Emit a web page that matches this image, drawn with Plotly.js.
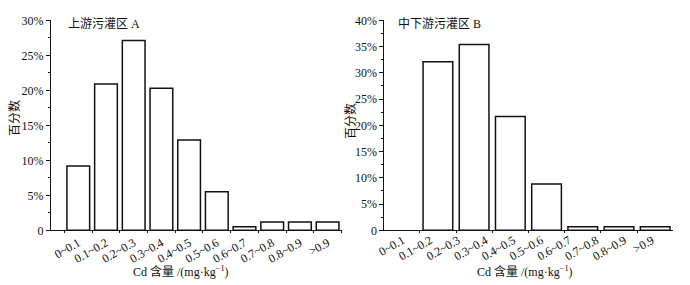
<!DOCTYPE html>
<html>
<head>
<meta charset="utf-8">
<script src="https://cdn.plot.ly/plotly-3.0.1.min.js"></script>
<style>html,body{margin:0;padding:0;background:#fff;}#chart{width:690px;height:285px;}</style>
</head>
<body>
<div id="chart"></div>
<script>
const categories = ['0~0.1','0.1~0.2','0.2~0.3','0.3~0.4','0.4~0.5','0.5~0.6','0.6~0.7','0.7~0.8','0.8~0.9','>0.9'];
const valuesA = [9.2, 20.9, 27.1, 20.3, 12.9, 5.5, 0.5, 1.2, 1.2, 1.2];
const valuesB = [0, 32.1, 35.4, 21.7, 8.8, 0.7, 0.7, 0.7, null, null];
const ticksA = [0, 5, 10, 15, 20, 25, 30];
const ticksB = [0, 5, 10, 15, 20, 25, 30, 35, 40];
const titleA = '上游污灌区 A';
const titleB = '中下游污灌区 B';
const yTitle = '百分数';
const xTitle = 'Cd 含量 /(mg·kg<sup>−1</sup>)';

const W = 690, H = 285;
const px = v => v / W;
const py = v => 1 - v / H;
const FONT = 'Liberation Serif, Noto Sans CJK SC, serif';
const pct = t => t === 0 ? '0' : t + '%';

const barStyle = vals => ({color: '#ffffff', line: {color: '#111', width: vals.map(v => v ? 1.5 : 0)}});

const traces = [
  {type: 'bar', x: categories, y: valuesA, xaxis: 'x', yaxis: 'y', marker: barStyle(valuesA), hoverinfo: 'x+y'},
  {type: 'bar', x: categories, y: valuesB, xaxis: 'x2', yaxis: 'y2', marker: barStyle(valuesB), hoverinfo: 'x+y'},
  {type: 'scatter', mode: 'markers', x: categories, y: categories.map(() => null), xaxis: 'x3', yaxis: 'y2',
   marker: {opacity: 0}, hoverinfo: 'skip'}
];

const yBase = {
  showline: true, linecolor: '#111', linewidth: 1, ticks: 'outside', ticklen: 4, tickcolor: '#111',
  showgrid: false, zeroline: false, automargin: false,
  tickfont: {family: FONT, size: 12, color: '#111'},
  minor: {dtick: 2.5, ticks: 'outside', ticklen: 2, tickcolor: '#111', showgrid: false}
};
const xBase = {
  type: 'category', showline: true, linecolor: '#111', linewidth: 1, ticks: 'outside', ticklen: 2,
  tickcolor: '#111', tickson: 'boundaries', showgrid: false, zeroline: false, automargin: false,
  tickangle: -30, tickfont: {family: FONT, size: 12, color: '#111'}
};

const domA = [px(51), px(342)];
const domB = [px(384.3), px(673.3)];
const domY = [py(230.3), py(20.3)];

const layout = {
  width: W, height: H,
  margin: {l: 0, r: 0, t: 0, b: 0},
  paper_bgcolor: '#fff', plot_bgcolor: '#fff',
  showlegend: false,
  bargap: 0.18,
  xaxis: Object.assign({}, xBase, {domain: domA, anchor: 'y', range: [-0.985, 9.52]}),
  yaxis: Object.assign({}, yBase, {domain: domY, anchor: 'x', range: [0, 30],
    tickmode: 'array', tickvals: ticksA, ticktext: ticksA.map(pct)}),
  xaxis2: Object.assign({}, xBase, {domain: domB, anchor: 'y2', range: [-0.48, 7.5], showticklabels: false}),
  yaxis2: Object.assign({}, yBase, {domain: domY, anchor: 'x2', range: [0, 40],
    tickmode: 'array', tickvals: ticksB, ticktext: ticksB.map(pct)}),
  xaxis3: {type: 'category', domain: domB, anchor: 'y2', overlaying: 'x2', range: [-0.66, 9.77],
    showline: false, ticks: '', showgrid: false, zeroline: false, automargin: false,
    tickangle: -30, tickfont: {family: FONT, size: 12, color: '#111'}},
  annotations: [
    {text: titleA, x: px(66), y: py(23.5), xref: 'paper', yref: 'paper', xanchor: 'left', yanchor: 'middle', showarrow: false, font: {family: FONT, size: 12, color: '#111'}},
    {text: titleB, x: px(396), y: py(23.5), xref: 'paper', yref: 'paper', xanchor: 'left', yanchor: 'middle', showarrow: false, font: {family: FONT, size: 12, color: '#111'}},
    {text: yTitle, x: px(15), y: py(118), xref: 'paper', yref: 'paper', xanchor: 'center', yanchor: 'middle', textangle: -90, showarrow: false, font: {family: FONT, size: 12, color: '#111'}},
    {text: yTitle, x: px(350), y: py(121), xref: 'paper', yref: 'paper', xanchor: 'center', yanchor: 'middle', textangle: -90, showarrow: false, font: {family: FONT, size: 12, color: '#111'}},
    {text: xTitle, x: px(181), y: py(271), xref: 'paper', yref: 'paper', xanchor: 'center', yanchor: 'middle', showarrow: false, font: {family: FONT, size: 12, color: '#111'}},
    {text: xTitle, x: px(525), y: py(271), xref: 'paper', yref: 'paper', xanchor: 'center', yanchor: 'middle', showarrow: false, font: {family: FONT, size: 12, color: '#111'}}
  ]
};

Plotly.newPlot('chart', traces, layout, {staticPlot: true, displayModeBar: false});
</script>
</body>
</html>
